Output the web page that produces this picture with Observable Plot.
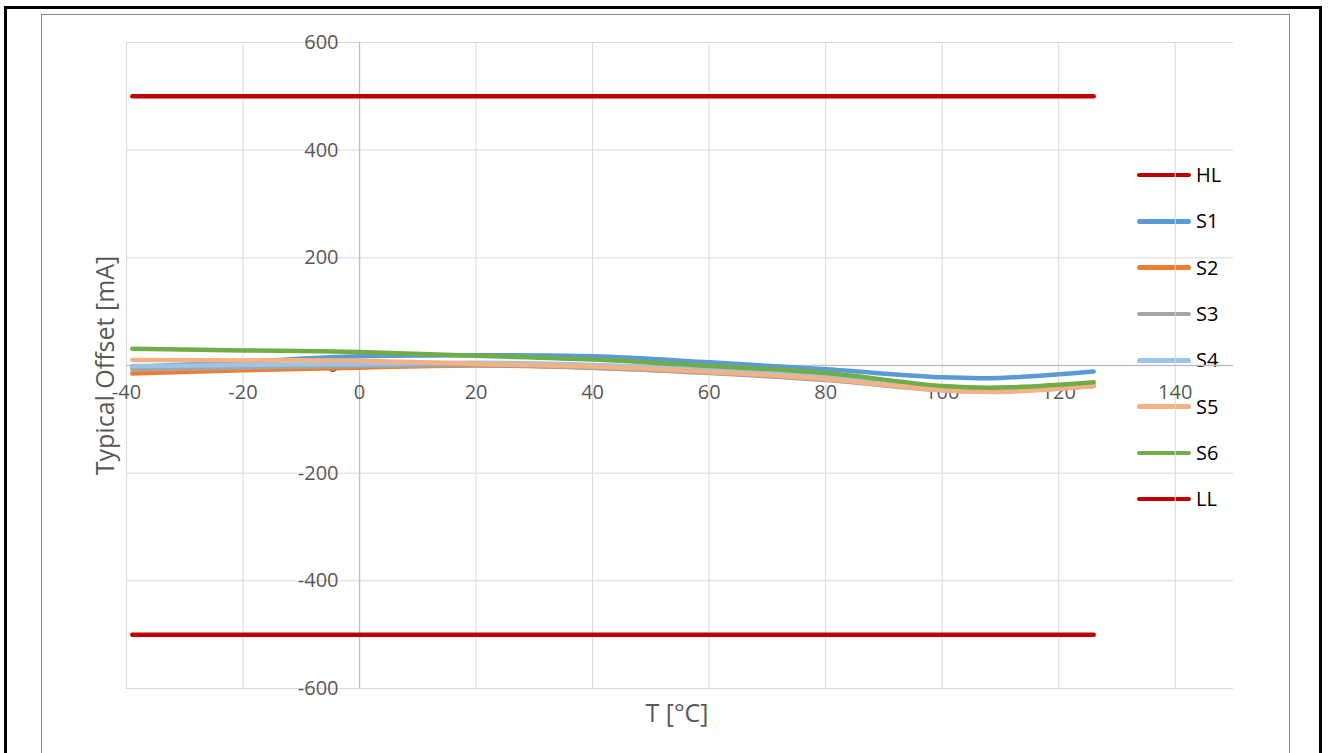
<!DOCTYPE html>
<html>
<head>
<meta charset="utf-8">
<script src="https://cdn.jsdelivr.net/npm/d3@7"></script>
<script src="https://cdn.jsdelivr.net/npm/@observablehq/plot@0.6"></script>
<style>
  html, body { margin: 0; padding: 0; background: #fff; overflow: hidden; }
  #wrap { position: relative; width: 1329px; height: 753px; font-family: "Open Sans", Lato, sans-serif; }
  #wrap svg { position: absolute; left: 0; top: 0; }
  .outer { position: absolute; left: 4px; top: 6px; width: 1318px; height: 800px; border: 3px solid #000; box-sizing: border-box; pointer-events: none; }
  .inner { position: absolute; left: 41px; top: 14px; width: 1249px; height: 800px; border: 1px solid #8c8c8c; box-sizing: border-box; pointer-events: none; }
  #legend { position: absolute; left: 1137px; top: 152px; }
  .item { display: flex; align-items: center; height: 46.3px; }
  .swatch { width: 54px; height: 4.5px; border-radius: 3px; margin-right: 5px; }
  .lab { font-size: 20px; color: #000; line-height: 1; }
</style>
</head>
<body>
<div id="wrap">
  <div class="outer"></div>
  <div class="inner"></div>
  <div id="legend"></div>
</div>
<script>
const temps = [-39, -20, 0, 20, 40, 60, 80, 100, 110, 126];
const S1 = [-3, 7, 17, 19, 17, 6, -7, -22, -23, -11];
const S2 = [-15, -9, -4, 0, -4, -13, -26, -45, -47, -38];
const S3 = [-8, -4, -1, 1, -4, -14, -27, -46, -48, -38];
const S4 = [-1, 1, 3, 5, 1, -8, -20, -40, -43, -34];
const S5 = [10, 9.5, 9, 3, -2, -12, -25, -46, -49, -38];
const S6 = [31, 28, 25, 18, 11, -1, -14, -38, -41, -31];
const limitTemps = [-39, 126];
const HL = [500, 500];
const LL = [-500, -500];
const seriesNames = ["HL", "S1", "S2", "S3", "S4", "S5", "S6", "LL"];
const seriesColors = ["#c00000", "#5b9bd5", "#ed7d31", "#a5a5a5", "#9dc3e6", "#f4b183", "#70ad47", "#c00000"];
const xTicks = [-40, -20, 0, 20, 40, 60, 80, 100, 120, 140];
const yTicks = [-600, -400, -200, 0, 200, 400, 600];
const xTitle = "T [°C]";
const yTitle = "Typical Offset [mA]";

const seriesValues = {S1, S2, S3, S4, S5, S6};
const rows = [];
seriesNames.forEach((name) => {
  if (name === "HL" || name === "LL") {
    const vals = name === "HL" ? HL : LL;
    limitTemps.forEach((t, i) => rows.push({series: name, t, v: vals[i]}));
  } else {
    temps.forEach((t, i) => rows.push({series: name, t, v: seriesValues[name][i]}));
  }
});

const chart = Plot.plot({
  width: 1329,
  height: 753,
  marginLeft: 126,
  marginRight: 96,
  marginTop: 42,
  marginBottom: 65,
  style: {fontFamily: "'Open Sans', Lato, sans-serif", background: "transparent"},
  x: {domain: [-40, 150], axis: null},
  y: {domain: [-600, 600], axis: null},
  color: {domain: seriesNames, range: seriesColors},
  marks: [
    Plot.ruleX(xTicks, {stroke: "#d9d9d9", strokeWidth: 1}),
    Plot.ruleY(yTicks, {stroke: "#d9d9d9", strokeWidth: 1}),
    Plot.ruleX([0], {stroke: "#bfbfbf", strokeWidth: 1.3}),
    Plot.ruleY([0], {stroke: "#bfbfbf", strokeWidth: 1.3}),
    Plot.text(yTicks, {x: 0, y: d => d, text: d => String(d), textAnchor: "end", dx: -21, fontSize: 20, fill: "#595959"}),
    Plot.text(xTicks, {x: d => d, y: 0, text: d => String(d), dy: 27, fontSize: 20, fill: "#595959"}),
    Plot.line(rows, {x: "t", y: "v", z: "series", stroke: "series", strokeWidth: 4.5, strokeLinecap: "round", strokeLinejoin: "round", curve: "catmull-rom"}),
    Plot.text([yTitle], {frameAnchor: "left", dx: -21, rotate: -90, textAnchor: "middle", lineAnchor: "middle", text: d => d, fontSize: 25, fill: "#595959"}),
    Plot.text([xTitle], {frameAnchor: "bottom", dy: 25, dx: -3, textAnchor: "middle", lineAnchor: "middle", text: d => d, fontSize: 25, fill: "#595959"})
  ]
});
document.getElementById("wrap").appendChild(chart);

const legend = document.getElementById("legend");
seriesNames.forEach((name, i) => {
  const item = document.createElement("div");
  item.className = "item";
  const sw = document.createElement("div");
  sw.className = "swatch";
  sw.style.background = seriesColors[i];
  const lab = document.createElement("div");
  lab.className = "lab";
  lab.textContent = name;
  item.appendChild(sw);
  item.appendChild(lab);
  legend.appendChild(item);
});
</script>
</body>
</html>
